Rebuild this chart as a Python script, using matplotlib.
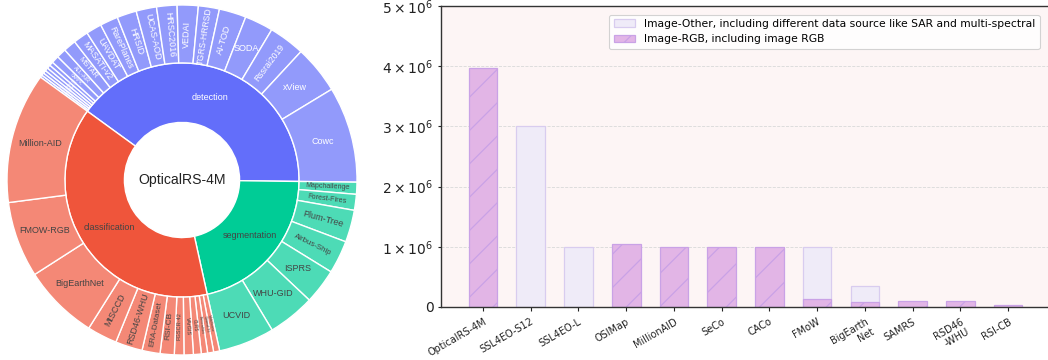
import numpy as np
import matplotlib
matplotlib.use("Agg")
import matplotlib.pyplot as plt
from matplotlib.ticker import FuncFormatter, MultipleLocator

# ---- sunburst data (share of OpticalRS-4M, largest first) ----
root_name = "OpticalRS-4M"
cat_names = ["detection", "segmentation", "classification"]

det_names = ["Cowc", "xView", "Rssrai2019", "SODA", "AI-TOD", "TGRS-HRRSD", "VEDAI",
             "HRSC2016", "UCAS-AOD", "HRSID", "RarePlanes", "UAVDAT", "MASATI-v2",
             "MSTAR", "ALL-AIR", "CARPK", "DIOR", "DOTA", "ITCVD", "RSOD",
             "NWPU-VHR10", "LEVIR"]
det_vals = [32, 16, 12, 9.5, 9, 7, 7, 6.8, 6.8, 6.5, 6, 5.2, 5, 4.2, 3.2, 2.5,
            1.3, 1.2, 1.1, 1.0, 0.9, 0.8]

seg_names = ["UCVID", "WHU-GID", "ISPRS", "Airbus-Ship", "Plum-Tree",
             "Forest-Fires", "Mapchallenge"]
seg_vals = [18.6, 15.7, 11.7, 11, 10.7, 5.3, 4]

cls_names = ["Million-AID", "FMOW-RGB", "BigEarthNet", "MtSCCD", "RSD46-WHU",
             "ERA-Dataset", "RSI-CB", "FGSCR-42", "VArGIS", "CLRS", "PatternNet",
             "Optimal-31", "MultiScene"]
cls_vals = [43.5, 25.3, 25.2, 10, 9, 6, 4.7, 3.2, 3.1, 2.6, 2.1, 2.0, 2.0]

# ---- bar chart data ----
bar_names = ["OpticalRS-4M", "SSL4EO-S12", "SSL4EO-L", "OSIMap", "MillionAID", "SeCo",
             "CACo", "FMoW", "BigEarth\nNet", "SAMRS", "RSD46\n-WHU", "RSI-CB"]
other_vals = [0, 3.0e6, 1.0e6, 0, 0, 0, 0, 1.0e6, 0.35e6, 0, 0, 0]
rgb_vals = [3.97e6, 0, 0, 1.05e6, 1.0e6, 1.0e6, 1.0e6, 0.13e6, 0.075e6, 0.105e6, 0.1e6, 0.036e6]

DPI = 200
PX = 72.0 / DPI  # points per pixel

plt.rcParams["hatch.linewidth"] = 0.45
plt.rcParams["hatch.color"] = "#c39be0"

fig = plt.figure(figsize=(1048 / DPI, 360 / DPI), dpi=DPI)

# ================= sunburst =================
ax1 = fig.add_axes([7 / 1048, 5 / 360, 350 / 1048, 350 / 360])
R_HOLE, R_MID, R_OUT = 0.329, 0.669, 1.0
R_PX = 175

base = {"detection": "#636efa", "segmentation": "#00cc96", "classification": "#ef553b"}
light = {"detection": "#929afb", "segmentation": "#4ddbb6", "classification": "#f48876"}
txtc = {"detection": "white", "segmentation": "#444444", "classification": "#444444"}

leaves = {"detection": (det_names, det_vals),
          "segmentation": (seg_names, seg_vals),
          "classification": (cls_names, cls_vals)}

inner_vals = [sum(leaves[c][1]) for c in cat_names]
outer_names, outer_vals, outer_cols, outer_cat = [], [], [], []
for c in cat_names:
    n, v = leaves[c]
    # smallest first when going clockwise
    outer_names += n[::-1]
    outer_vals += v[::-1]
    outer_cols += [light[c]] * len(n)
    outer_cat += [c] * len(n)

wp = dict(edgecolor="white", linewidth=0.5)
w_in, _ = ax1.pie(inner_vals, radius=R_MID, startangle=144, counterclock=False,
                  colors=[base[c] for c in cat_names],
                  wedgeprops=dict(width=R_MID - R_HOLE, **wp))
w_out, _ = ax1.pie(outer_vals, radius=R_OUT, startangle=144, counterclock=False,
                   colors=outer_cols, wedgeprops=dict(width=R_OUT - R_MID, **wp))

horiz = {"Cowc", "xView", "SODA", "Million-AID", "FMOW-RGB", "BigEarthNet",
         "ISPRS", "WHU-GID", "UCVID"}
FONT = "Liberation Sans"

for w, c in zip(w_in, cat_names):
    mid = np.deg2rad((w.theta1 + w.theta2) / 2)
    r = (R_HOLE + R_MID) / 2
    ax1.text(r * np.cos(mid), r * np.sin(mid), c, ha="center", va="center",
             fontsize=9 * PX, color=txtc[c], family=FONT)

for w, name, c in zip(w_out, outer_names, outer_cat):
    deg = (w.theta1 + w.theta2) / 2
    deg = (deg + 180) % 360 - 180
    mid = np.deg2rad(deg)
    r = (R_MID + R_OUT) / 2
    span_px = np.deg2rad(w.theta2 - w.theta1) * r * R_PX
    if name in horiz:
        rot, fs = 0, 9
    else:
        rot = deg - 180 if deg > 90 else (deg + 180 if deg < -90 else deg)
        fs = min(9, span_px * 0.7, 52 / (0.6 * len(name)))
    ax1.text(r * np.cos(mid), r * np.sin(mid), name, ha="center", va="center",
             rotation=rot, rotation_mode="anchor", fontsize=fs * PX,
             color=txtc[c], family=FONT)

ax1.text(0, 0, root_name, ha="center", va="center", fontsize=14 * PX,
         color="#222222", family=FONT)
ax1.set_xlim(-1, 1)
ax1.set_ylim(-1, 1)
ax1.set_aspect("equal")
ax1.axis("off")

# ================= bar chart =================
ax2 = fig.add_axes([441 / 1048, 53 / 360, (1050 - 441) / 1048, 301 / 360])
ax2.set_facecolor("#fdf5f5")
x = np.arange(len(bar_names))
ov = np.array(other_vals)
rv = np.array(rgb_vals)
mo = ov > 0
mr = rv > 0
ax2.bar(x[mo], ov[mo], width=0.6, color="#efebf8", edgecolor="#d8ccef",
        linewidth=0.45, label="Image-Other, including different data source like SAR and multi-spectral")
ax2.bar(x[mr], rv[mr], width=0.6, color="#e2b5e6", edgecolor="#c9a2e6",
        linewidth=0.45, hatch="//", label="Image-RGB, including image RGB")

ax2.set_xlim(-0.88, 11.88)
ax2.set_ylim(0, 5e6)
ax2.yaxis.set_major_locator(MultipleLocator(1e6))
ax2.yaxis.set_major_formatter(FuncFormatter(
    lambda v, p: "0" if v == 0 else r"$\mathdefault{%d\times10^{6}}$" % round(v / 1e6)))
ax2.set_xticks(x)
ax2.set_xticklabels(bar_names, rotation=30, ha="right", rotation_mode="anchor",
                    fontsize=3.5)
ax2.tick_params(axis="y", labelsize=5, length=1.2, width=0.4, pad=1.5, colors="#222222")
ax2.tick_params(axis="x", length=1.4, width=0.4, pad=2, colors="#222222")
ax2.yaxis.grid(True, linestyle="--", color="#d9d9d9", linewidth=0.3)
ax2.set_axisbelow(True)
for s in ["left", "bottom", "top"]:
    ax2.spines[s].set_linewidth(0.5)
    ax2.spines[s].set_color("#333333")
ax2.spines["right"].set_visible(False)

leg = ax2.legend(loc="upper right", fontsize=3.9, framealpha=0.85,
                 edgecolor="#cccccc", borderaxespad=0.8, bbox_to_anchor=(0.997, 1.0))
leg.get_frame().set_linewidth(0.4)

fig.savefig("out.png", dpi=DPI, facecolor="white")
